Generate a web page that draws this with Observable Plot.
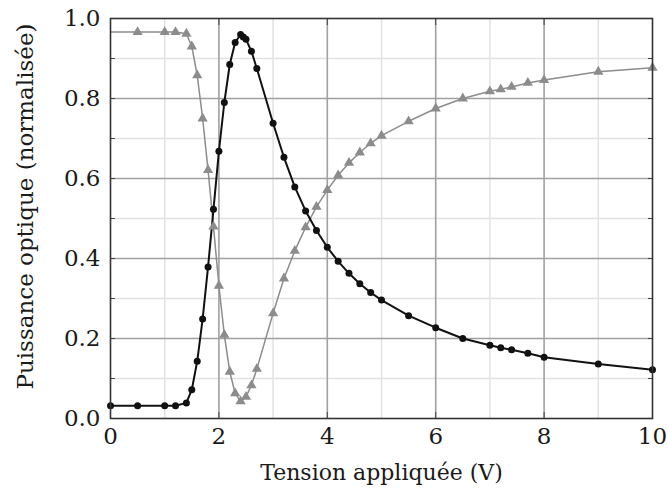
<!DOCTYPE html>
<html>
<head>
<meta charset="utf-8">
<script src="https://cdn.jsdelivr.net/npm/d3@7"></script>
<script src="https://cdn.jsdelivr.net/npm/@observablehq/plot@0.6"></script>
<style>
  html, body { margin: 0; padding: 0; background: #fff; }
  #chart svg { display: block; }
</style>
</head>
<body>
<div id="chart"></div>
<script>
// Data
const blackX = [0, 0.5, 1.0, 1.2, 1.4, 1.5, 1.6, 1.7, 1.8, 1.9, 2.0, 2.1, 2.2, 2.3, 2.4, 2.45, 2.5, 2.6, 2.7, 3.0, 3.2, 3.4, 3.6, 3.8, 4.0, 4.2, 4.4, 4.6, 4.8, 5.0, 5.5, 6.0, 6.5, 7.0, 7.2, 7.4, 7.7, 8.0, 9.0, 10.0];
const blackY = [0.032, 0.032, 0.032, 0.032, 0.039, 0.072, 0.143, 0.249, 0.379, 0.523, 0.668, 0.79, 0.885, 0.94, 0.96, 0.954, 0.948, 0.918, 0.875, 0.738, 0.653, 0.579, 0.519, 0.47, 0.428, 0.393, 0.363, 0.337, 0.315, 0.296, 0.257, 0.227, 0.20, 0.183, 0.177, 0.172, 0.163, 0.153, 0.136, 0.122];

const grayX = [0, 0.5, 1.0, 1.2, 1.4, 1.5, 1.6, 1.7, 1.8, 1.9, 2.0, 2.1, 2.2, 2.3, 2.4, 2.5, 2.6, 2.7, 3.0, 3.2, 3.4, 3.6, 3.8, 4.0, 4.2, 4.4, 4.6, 4.8, 5.0, 5.5, 6.0, 6.5, 7.0, 7.2, 7.4, 7.7, 8.0, 9.0, 10.0];
const grayY = [0.966, 0.966, 0.966, 0.966, 0.962, 0.93, 0.858, 0.75, 0.621, 0.48, 0.332, 0.209, 0.117, 0.063, 0.043, 0.054, 0.083, 0.124, 0.263, 0.35, 0.419, 0.478, 0.529, 0.571, 0.608, 0.639, 0.665, 0.688, 0.707, 0.743, 0.775, 0.80, 0.818, 0.823, 0.829, 0.839, 0.846, 0.867, 0.877];

const xMajorTicks = [0, 2, 4, 6, 8, 10];
const xMinorTicks = [1, 3, 5, 7, 9];
const yMajorTicks = [0, 0.2, 0.4, 0.6, 0.8, 1.0];
const yMinorTicks = [0.1, 0.3, 0.5, 0.7, 0.9];

const xLabel = "Tension appliquée (V)";
const yLabel = "Puissance optique (normalisée)";

const black = blackX.map((x, i) => ({x, y: blackY[i]}));
const gray = grayX.map((x, i) => ({x, y: grayY[i]}));

const font = "DejaVu Serif";
const noText = () => "";

const chart = Plot.plot({
  width: 669,
  height: 497,
  marginLeft: 110,
  marginRight: 17,
  marginTop: 18,
  marginBottom: 79,
  style: { fontFamily: font, background: "#fff", color: "#1a1a1a" },
  x: { domain: [0, 10] },
  y: { domain: [0, 1] },
  marks: [
    Plot.ruleX(xMinorTicks, { stroke: "#e2e2e2", strokeWidth: 1.5 }),
    Plot.ruleY(yMinorTicks, { stroke: "#e2e2e2", strokeWidth: 1.5 }),
    Plot.ruleX(xMajorTicks.slice(1, -1), { stroke: "#a0a0a0", strokeWidth: 1.6 }),
    Plot.ruleY(yMajorTicks.slice(1, -1), { stroke: "#a0a0a0", strokeWidth: 1.6 }),
    Plot.axisX({ anchor: "top", ticks: xMajorTicks, tickSize: -6, tickFormat: noText, label: null, stroke: "#444" }),
    Plot.axisX({ anchor: "bottom", ticks: xMajorTicks, tickSize: -6, tickFormat: noText, label: null, stroke: "#444" }),
    Plot.axisY({ anchor: "right", ticks: yMajorTicks.concat(yMinorTicks), tickSize: -5, tickFormat: noText, label: null, stroke: "#444" }),
    Plot.axisY({ anchor: "left", ticks: yMajorTicks.concat(yMinorTicks), tickSize: -5, tickFormat: noText, label: null, stroke: "#444" }),
    Plot.axisX({ anchor: "bottom", ticks: xMajorTicks, tickSize: 0, tickPadding: 9, fontSize: 23, label: null, tickFormat: d3.format("d") }),
    Plot.axisY({ anchor: "left", ticks: yMajorTicks, tickSize: 0, tickPadding: 10, fontSize: 23, tickFormat: d3.format(".1f"),
                 label: yLabel, labelAnchor: "center", labelArrow: "none", labelOffset: 94 }),
    Plot.line(gray, { x: "x", y: "y", stroke: "#8c8c8c", strokeWidth: 1.5, curve: "linear" }),
    Plot.line(black, { x: "x", y: "y", stroke: "#111", strokeWidth: 2, curve: "linear" }),
    Plot.dot(gray.filter(d => d.x > 0), { x: "x", y: "y", symbol: "triangle", r: 3.8, fill: "#8c8c8c", stroke: "none" }),
    Plot.dot(black, { x: "x", y: "y", symbol: "circle", r: 3.5, fill: "#111", stroke: "none" }),
    Plot.frame({ stroke: "#333", strokeWidth: 1.6 }),
    Plot.text([xLabel], { frameAnchor: "bottom", dy: 61, fontSize: 22, fill: "#1a1a1a", fontFamily: font })
  ]
});

// nudge the rotated y label up slightly to match the reference's position
d3.select(chart).selectAll('g[aria-label="y-axis label"]').attr("transform", function () {
  const t = d3.select(this).attr("transform") || "";
  return t + " translate(0,-12)";
}).style("font-size", "23px");

document.getElementById("chart").appendChild(chart);
</script>
</body>
</html>
